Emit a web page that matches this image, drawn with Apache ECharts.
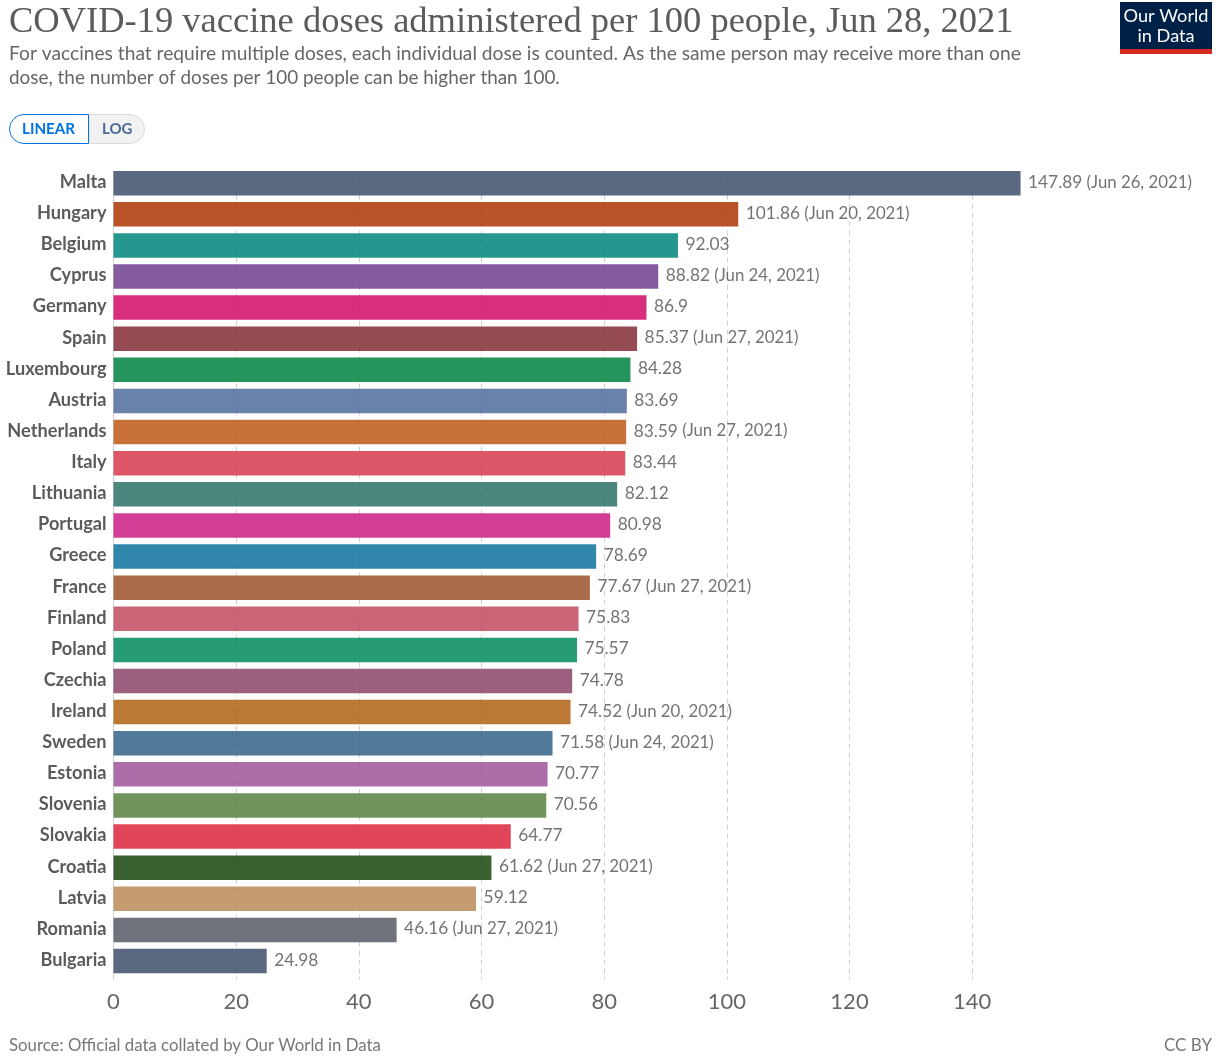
<!DOCTYPE html>
<html>
<head>
<meta charset="utf-8">
<script src="https://cdn.jsdelivr.net/npm/echarts@6/dist/echarts.min.js"></script>
<style>
  html, body { margin: 0; background: #fff; }
  #chart { width: 1220px; height: 1060px; }
</style>
</head>
<body>
<div id="chart"></div>
<script>
const countries = ["Malta","Hungary","Belgium","Cyprus","Germany","Spain","Luxembourg","Austria","Netherlands","Italy","Lithuania","Portugal","Greece","France","Finland","Poland","Czechia","Ireland","Sweden","Estonia","Slovenia","Slovakia","Croatia","Latvia","Romania","Bulgaria"];
const doses = [147.89,101.86,92.03,88.82,86.9,85.37,84.28,83.69,83.59,83.44,82.12,80.98,78.69,77.67,75.83,75.57,74.78,74.52,71.58,70.77,70.56,64.77,61.62,59.12,46.16,24.98];
const doseLabels = ["147.89","101.86","92.03","88.82","86.9","85.37","84.28","83.69","83.59","83.44","82.12","80.98","78.69","77.67","75.83","75.57","74.78","74.52","71.58","70.77","70.56","64.77","61.62","59.12","46.16","24.98"];
const dates = ["Jun 26, 2021","Jun 20, 2021","","Jun 24, 2021","","Jun 27, 2021","","","Jun 27, 2021","","","","","Jun 27, 2021","","","","Jun 20, 2021","Jun 24, 2021","","","","Jun 27, 2021","","Jun 27, 2021",""];
// colours as they look on white; bars are drawn see-through so the grid shows
const colors = ["#5a6880","#b9522a","#26978f","#845ba0","#d92e7e","#964c52","#25965b","#6a81ac","#c87138","#de5768","#4b877d","#d33f97","#3187ab","#a96b48","#ca6678","#259b75","#9c5f7d","#bd7a36","#527999","#ae6ca8","#70945c","#e0465a","#3b602f","#c59b70","#6f747b","#5a6880"];
const barOpacity = 0.85;

function baseColor(hex) {
  const parts = [1, 3, 5].map(i => parseInt(hex.slice(i, i + 2), 16));
  const base = parts.map(c => Math.max(0, Math.round((c - 255 * (1 - barOpacity)) / barOpacity)));
  return "rgb(" + base.join(",") + ")";
}

const chart = echarts.init(document.getElementById("chart"));

chart.setOption({
  animation: false,
  textStyle: { fontFamily: "Lato" },
  grid: { left: 113.5, top: 167.6, width: 920, height: 809 },
  xAxis: {
    type: "value", min: 0, max: 150, interval: 20,
    axisLine: { show: false },
    axisTick: { show: true, length: 3, lineStyle: { color: "#d0d0d0" } },
    axisLabel: { fontSize: 22, color: "#666", margin: 14, showMaxLabel: false },
    splitLine: { showMaxLine: false, lineStyle: { color: "#d0d0d0", type: [5, 4] } }
  },
  yAxis: {
    type: "category", data: countries, inverse: true,
    axisLine: { show: true, lineStyle: { color: "#d0d0d0" } },
    axisTick: { show: false },
    axisLabel: {
      margin: 7,
      formatter: v => "{n|" + v + "}",
      rich: { n: { fontSize: 18.2, fontWeight: "bold", color: "#5b5b5b", fontFamily: "Lato", padding: [0, 0, 2, 0] } }
    }
  },
  series: [{
    type: "bar",
    barWidth: 24.5,
    data: doses.map((v, i) => ({ value: v, itemStyle: { color: baseColor(colors[i]), opacity: barOpacity } })),
    label: {
      show: true, position: "right", distance: 7.5, offset: [0, -1],
      formatter: p => "{v|" + doseLabels[p.dataIndex] + "}" + (dates[p.dataIndex] ? "{d| (" + dates[p.dataIndex] + ")}" : ""),
      rich: {
        v: { fontSize: 17.3, color: "#5b5b5b", fontFamily: "Lato" },
        d: { fontSize: 16.8, color: "#5b5b5b", fontFamily: "Lato" }
      }
    }
  }],
  graphic: [
    { type: "rect", z: 10, shape: { x: 105, y: 164, width: 930, height: 7 }, style: { fill: "#fff" } },
    { type: "text", left: 9, top: 4, style: { text: "COVID-19 vaccine doses administered per 100 people, Jun 28, 2021", font: "36.5px 'Liberation Serif'", fill: "#5b5b5b" } },
    { type: "text", left: 9, top: 44, style: { text: "For vaccines that require multiple doses, each individual dose is counted. As the same person may receive more than one", font: "19.2px Lato", fill: "#666" } },
    { type: "text", left: 9, top: 68, style: { text: "dose, the number of doses per 100 people can be higher than 100.", font: "18.9px Lato", fill: "#666" } },
    { type: "rect", shape: { x: 89, y: 114.5, width: 55.5, height: 29, r: [0, 14.5, 14.5, 0] }, style: { fill: "#f2f2f2", stroke: "#d9d9de" } },
    { type: "rect", shape: { x: 9.5, y: 114.5, width: 79, height: 29, r: [14.5, 0, 0, 14.5] }, style: { fill: "#fff", stroke: "#0073e6" } },
    { type: "text", left: 22, top: 122, style: { text: "LINEAR", font: "bold 15.2px Lato", fill: "#0073e6" } },
    { type: "text", left: 102, top: 122, style: { text: "LOG", font: "bold 15px Lato", fill: "#4a6a94" } },
    { type: "rect", shape: { x: 1120, y: 2, width: 92, height: 52 }, style: { fill: "#002147" } },
    { type: "rect", shape: { x: 1120, y: 49, width: 92, height: 5 }, style: { fill: "#d42b21" } },
    { type: "text", x: 1166, y: 7, style: { text: "Our World", font: "18.2px Lato", fill: "#fff", align: "center" } },
    { type: "text", x: 1166, y: 27, style: { text: "in Data", font: "18.2px Lato", fill: "#fff", align: "center" } },
    { type: "text", left: 9, top: 1037, style: { text: "Source: Official data collated by Our World in Data", font: "16.8px Lato", fill: "#777" } },
    { type: "text", x: 1212, y: 1037, style: { text: "CC BY", font: "17px Lato", fill: "#777", align: "right" } }
  ]
});
</script>
</body>
</html>
